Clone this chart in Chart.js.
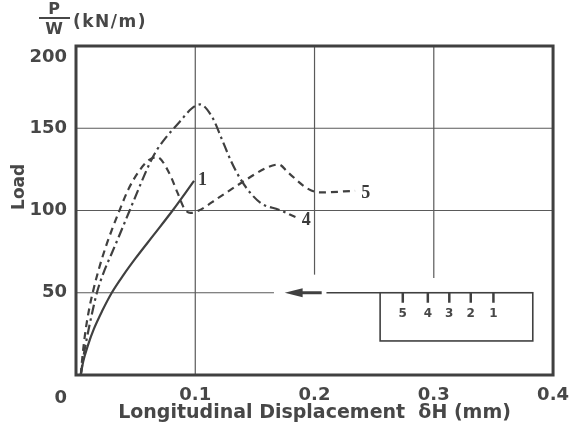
<!DOCTYPE html>
<html>
<head>
<meta charset="utf-8">
<script src="https://cdn.jsdelivr.net/npm/chart.js@4/dist/chart.umd.min.js"></script>
<style>
html,body{margin:0;padding:0;background:#fff;}
canvas{display:block;}
</style>
</head>
<body>
<canvas id="c" width="579" height="430"></canvas>
<script>
// ---- data ----
const xTicks = [0, 0.1, 0.2, 0.3, 0.4];
const xTickLabels = ['', '0.1', '0.2', '0.3', '0.4'];
const yTicks = [0, 50, 100, 150, 200];
const yTickLabels = [['', '', '0'], '50', '100', '150', ['', '200']];

const curve1X = [0.004, 0.006, 0.01, 0.015, 0.022, 0.03, 0.04, 0.05, 0.065, 0.081, 0.099];
const curve1Y = [0, 8, 18, 28, 39, 50, 61, 71, 85, 100, 118];

const curve4X = [0.004, 0.006, 0.009, 0.013, 0.0175, 0.023, 0.03, 0.037, 0.045, 0.053, 0.062, 0.068, 0.075, 0.087, 0.097, 0.104, 0.114, 0.1225, 0.13, 0.138, 0.147, 0.156, 0.17, 0.184];
const curve4Y = [0, 10, 22, 36, 50, 62, 74, 86, 100, 114, 129, 137, 144, 154, 162, 164.5, 157, 143, 130, 119, 110, 104, 100.5, 96];

const curve5X = [0.004, 0.0055, 0.008, 0.011, 0.014, 0.019, 0.025, 0.031, 0.037, 0.044, 0.052, 0.06, 0.068, 0.078, 0.085, 0.091, 0.096, 0.103, 0.12, 0.139, 0.16, 0.17, 0.178, 0.195, 0.205, 0.234];
const curve5Y = [0, 12, 27, 40, 50, 64, 78, 90, 101, 113, 123, 130, 132.5, 123, 111, 101, 98.5, 100, 108, 117, 126, 128, 123, 113, 111, 112];

const curveLabels = ['1', '4', '5'];
const curveLabelX = [0.106, 0.193, 0.243];
const curveLabelY = [118.5, 94, 110.6];

// grid segments (x1, y1, x2, y2) in data units
const gridX1 = [0.1, 0.2, 0.3, 0,   0,   0];
const gridY1 = [0,   61,  59,  150, 100, 50];
const gridX2 = [0.1, 0.2, 0.3, 0.4, 0.4, 0.166];
const gridY2 = [200, 200, 200, 150, 100, 50];

// inset (loading diagram)
const insetBoxX = [0.255, 0.383];
const insetBoxY = [20.7, 50];
const insetTickX = [0.274, 0.295, 0.313, 0.331, 0.35];
const insetTickLabels = ['5', '4', '3', '2', '1'];
const insetArrow = {tip: 0.175, head: 0.19, shaftEnd: 0.206, lineStart: 0.21, y: 50};

const INK = '#404040';
const TXT = '#474747';

function pts(xs, ys) { return xs.map((x, i) => ({x: x, y: ys[i]})); }

const gridPlugin = {
  id: 'gridSegs',
  beforeDatasetsDraw(chart) {
    const {ctx, scales: {x, y}} = chart;
    ctx.save();
    ctx.strokeStyle = '#5a5a5a';
    ctx.lineWidth = 1.2;
    for (let i = 0; i < gridX1.length; i++) {
      ctx.beginPath();
      ctx.moveTo(x.getPixelForValue(gridX1[i]), y.getPixelForValue(gridY1[i]));
      ctx.lineTo(x.getPixelForValue(gridX2[i]), y.getPixelForValue(gridY2[i]));
      ctx.stroke();
    }
    ctx.restore();
  },
  afterDatasetsDraw(chart) {
    const {ctx, chartArea: a, scales: {x, y}} = chart;
    ctx.save();
    // frame
    ctx.strokeStyle = INK;
    ctx.lineWidth = 3;
    ctx.strokeRect(a.left, a.top, a.right - a.left, a.bottom - a.top);

    // inset box
    const bx1 = x.getPixelForValue(insetBoxX[0]), bx2 = x.getPixelForValue(insetBoxX[1]);
    const by1 = y.getPixelForValue(insetBoxY[1]), by2 = y.getPixelForValue(insetBoxY[0]);
    ctx.lineWidth = 1.6;
    ctx.strokeStyle = INK;
    ctx.strokeRect(bx1, by1, bx2 - bx1, by2 - by1);
    // line continuing from box to arrow
    const ay = y.getPixelForValue(insetArrow.y);
    ctx.beginPath();
    ctx.moveTo(x.getPixelForValue(insetArrow.lineStart), ay);
    ctx.lineTo(bx1, ay);
    ctx.stroke();
    // arrow shaft
    ctx.lineWidth = 3;
    ctx.beginPath();
    ctx.moveTo(x.getPixelForValue(insetArrow.head) - 2, ay);
    ctx.lineTo(x.getPixelForValue(insetArrow.shaftEnd), ay);
    ctx.stroke();
    // arrow head
    ctx.fillStyle = INK;
    const tx = x.getPixelForValue(insetArrow.tip), hx = x.getPixelForValue(insetArrow.head);
    ctx.beginPath();
    ctx.moveTo(tx, ay);
    ctx.lineTo(hx, ay - 4.5);
    ctx.lineTo(hx, ay + 4.5);
    ctx.closePath();
    ctx.fill();
    // inset ticks + labels
    ctx.lineWidth = 2.5;
    ctx.font = 'bold 12px "DejaVu Sans"';
    ctx.textAlign = 'center';
    ctx.textBaseline = 'middle';
    ctx.fillStyle = TXT;
    insetTickX.forEach((v, i) => {
      const px = x.getPixelForValue(v);
      ctx.beginPath();
      ctx.moveTo(px, by1);
      ctx.lineTo(px, by1 + 10);
      ctx.stroke();
      ctx.fillText(insetTickLabels[i], px, by1 + 21);
    });

    // curve labels
    ctx.font = 'bold 18px "Liberation Serif"';
    ctx.fillStyle = '#3a3a3a';
    curveLabels.forEach((t, i) => {
      ctx.fillText(t, x.getPixelForValue(curveLabelX[i]), y.getPixelForValue(curveLabelY[i]));
    });

    // unit label P/W (kN/m)
    ctx.font = 'bold 16px "DejaVu Sans"';
    ctx.fillStyle = TXT;
    ctx.textAlign = 'center';
    ctx.fillText('P', 54, 10);
    ctx.fillText('W', 54, 30);
    ctx.fillRect(39, 17, 31, 2);
    ctx.textAlign = 'left';
    ctx.font = 'bold 17px "DejaVu Sans"';
    try { ctx.letterSpacing = '1.5px'; } catch (e) {}
    ctx.fillText('(kN/m)', 73, 23);
    ctx.restore();
  }
};

const xTickFont = {family: '"DejaVu Sans"', size: 18, weight: 'bold'};
const yTickFont = {family: '"DejaVu Sans"', size: 18, weight: 'bold', lineHeight: 1.3};

new Chart(document.getElementById('c'), {
  type: 'line',
  data: {
    datasets: [
      {label: '1', data: pts(curve1X, curve1Y), borderColor: INK, borderWidth: 2.2, pointRadius: 0, cubicInterpolationMode: 'monotone', fill: false},
      {label: '4', data: pts(curve4X, curve4Y), borderColor: INK, borderWidth: 2.2, borderDash: [10, 4, 2.5, 4], pointRadius: 0, cubicInterpolationMode: 'monotone', fill: false},
      {label: '5', data: pts(curve5X, curve5Y), borderColor: INK, borderWidth: 2.2, borderDash: [7, 5], pointRadius: 0, cubicInterpolationMode: 'monotone', fill: false}
    ]
  },
  options: {
    responsive: false,
    animation: false,
    layout: {padding: {top: 46, right: 23, left: 0, bottom: 0}},
    plugins: {legend: {display: false}, tooltip: {enabled: false}},
    scales: {
      x: {
        type: 'linear', min: 0, max: 0.4,
        afterBuildTicks(s) { s.ticks = xTicks.map(v => ({value: v})); },
        afterFit(s) { s.height = 55; },
        grid: {display: false, drawTicks: false},
        border: {display: false},
        ticks: {font: xTickFont, color: TXT, padding: 10, maxRotation: 0, autoSkip: false,
          callback: (v, i) => xTickLabels[i]},
        title: {display: true, text: 'Longitudinal Displacement  δH (mm)', color: TXT,
          font: {family: '"DejaVu Sans"', size: 19, weight: 'bold'}, padding: {top: 0, bottom: 6}}
      },
      y: {
        type: 'linear', min: 0, max: 200,
        afterBuildTicks(s) { s.ticks = yTicks.map(v => ({value: v})); },
        afterFit(s) { s.width = 76; },
        grid: {display: false, drawTicks: false},
        border: {display: false},
        ticks: {font: yTickFont, color: TXT, padding: 9, autoSkip: false,
          callback: (v, i) => yTickLabels[i]},
        title: {display: true, text: '        Load', color: TXT,
          font: {family: '"DejaVu Sans"', size: 17, weight: 'bold'}, padding: {top: 9, bottom: 0}}
      }
    }
  },
  plugins: [gridPlugin]
});
</script>
</body>
</html>
